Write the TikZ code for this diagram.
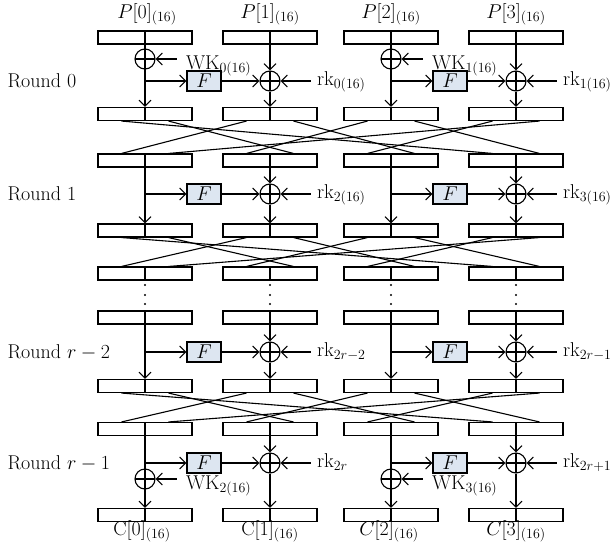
\RequirePackage{fix-cm}
\documentclass[tikz,border=0pt]{standalone}
\usetikzlibrary{arrows.meta}
\definecolor{fgrau}{RGB}{221,230,241}

\begin{document}
\begin{tikzpicture}[x=1pt, y=-1pt, line width=1.1pt,
	font=\fontsize{20}{23}\selectfont,
	pfeil/.style={-{Straight Barb[length=6pt,width=12pt]}},
	halb/.style={draw, minimum width=94pt, minimum height=13pt, inner sep=0pt,
		path picture={\draw (path picture bounding box.north) -- (path picture bounding box.south);}},
	xor/.style={circle, draw, fill=white, minimum size=20pt, inner sep=0pt,
		path picture={\draw (path picture bounding box.north) -- (path picture bounding box.south)
			(path picture bounding box.west) -- (path picture bounding box.east);}},
	fkt/.style={draw, fill=fgrau, minimum width=34pt, minimum height=20pt, inner sep=0pt},
	txt/.style={inner sep=1pt}]
	\useasboundingbox (0,0) rectangle (612,554);

	% Bloecke, je zwei Haelften
	\foreach \r/\y in {0/37.5,1/114,2/160.5,3/230.5,4/273.5,5/317.5,6/386,7/429,8/515}
		\foreach \c/\x in {0/145,1/270,2/391,3/516}
			\node[halb] (b\r\c) at (\x,\y) {};

	% Ein- und Ausgaenge
	\node[txt, anchor=base] (p0) at (147,18) {$P[0]_{(16)}$};
	\node[txt, anchor=base] (p1) at (270,18) {$P[1]_{(16)}$};
	\node[txt, anchor=base] (p2) at (391,18) {$P[2]_{(16)}$};
	\node[txt, anchor=base] (p3) at (516,18) {$P[3]_{(16)}$};
	\node[txt, anchor=base] (c0) at (142,535) {$\mathrm{C}[0]_{(16)}$};
	\node[txt, anchor=base] (c1) at (270,535) {$\mathrm{C}[1]_{(16)}$};
	\node[txt, anchor=base] (c2) at (389,535) {$C[2]_{(16)}$};
	\node[txt, anchor=base] (c3) at (516,535) {$C[3]_{(16)}$};

	% Rundennamen
	\node[txt, anchor=base west] (r0) at (6,87.5) {Round 0};
	\node[txt, anchor=base west] (r1) at (6,200.5) {Round 1};
	\node[txt, anchor=base west] (r2) at (6,358.5) {Round $r-2$};
	\node[txt, anchor=base west] (r3) at (6,469.5) {Round $r-1$};

	% Runden: F und XOR mit Rundenschluessel
	\foreach \n/\o/\u/\y/\ka/\kb in {0/0/1/81/{0(16)}/{1(16)}, 1/2/3/194/{2(16)}/{3(16)},
			2/5/6/352/{2r-2}/{2r-1}, 3/7/8/463/{2r}/{2r+1}}
		\foreach \l/\m/\k/\dx in {0/1/\ka/0, 2/3/\kb/246} {
			\node[fkt] (f\n\l) at (204+\dx,\y) {$F$};
			\node[xor] (x\n\m) at (270+\dx,\y) {};
			\draw[pfeil] (b\o\l.south) -- (b\u\l.north);%linker Zweig
			\draw[pfeil] (b\o\l.south |- f\n\l.west) -- (f\n\l.west);
			\draw[pfeil] (b\o\m.south) -- (x\n\m.north);
			\draw[pfeil] (f\n\l.east) -- (x\n\m.west);
			\draw[pfeil] (x\n\m.south) -- (b\u\m.north);
			\coordinate (k\n\m) at ([xshift=30pt]x\n\m.east);
			\draw[pfeil] (k\n\m) -- (x\n\m.east);
			\node[txt, anchor=base west] (rk\n\m) at ([xshift=5pt,yshift=-4pt]k\n\m) {$\mathrm{rk}_{\k}$};
		}

	% Whitening-Schluessel
	\foreach \w/\x/\y/\k in {0/145/59/0, 1/391/59/1, 2/145/479/2, 3/391/479/3} {
		\node[xor] (w\w) at (\x,\y) {};
		\coordinate (kw\w) at ([xshift=21pt]w\w.east);
		\draw[pfeil] (kw\w) -- (w\w.east);
		\node[txt, anchor=base west] (wk\w) at ([xshift=8pt,yshift=-10pt]kw\w) {$\mathrm{WK}_{\k(16)}$};
	}

	% Permutation der Haelften
	\foreach \o/\u in {1/2, 3/4, 6/7}
		\foreach \s/\t in {0/6,1/3,2/0,3/5,4/2,5/7,6/4,7/1} {
			\pgfmathtruncatemacro\sb{floor(\s/2)}
			\pgfmathtruncatemacro\tb{floor(\t/2)}
			\pgfmathsetmacro\sd{(mod(\s,2)-0.5)*47}
			\pgfmathsetmacro\td{(mod(\t,2)-0.5)*47}
			\draw ([xshift=\sd]b\o\sb.south) -- ([xshift=\td]b\u\tb.north);
		}

	% Punkte
	\foreach \x in {145,270,391,516}
		\foreach \d in {285,295,304}
			\fill (\x,\d) circle (1.1pt);
\end{tikzpicture}
\end{document}
